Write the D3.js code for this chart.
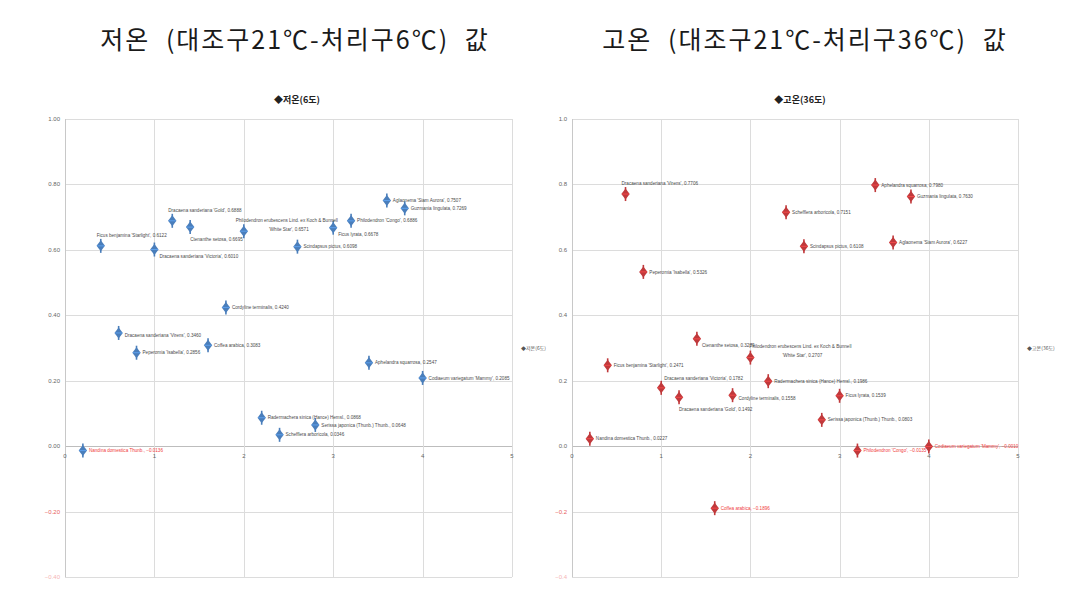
<!DOCTYPE html>
<html>
<head>
<meta charset="utf-8">
<script src="https://cdn.jsdelivr.net/npm/d3@7"></script>
<style>
  html, body { margin: 0; padding: 0; background: #fff; }
  svg { display: block; }
</style>
</head>
<body>
<svg id="chart" width="1078" height="594"></svg>
<script>
// ---------------- DATA ----------------
const plants = [
  "Nandina domestica Thunb.",
  "Ficus benjamina 'Starlight'",
  "Dracaena sanderiana 'Virens'",
  "Peperomia 'Isabella'",
  "Dracaena sanderiana 'Victoria'",
  "Dracaena sanderiana 'Gold'",
  "Ctenanthe setosa",
  "Coffea arabica",
  "Cordyline terminalis",
  "Philodendron erubescens Lind. ex Koch & Bunnell|'White Star'",
  "Radermachera sinica (Hance) Hemsl.",
  "Schefflera arboricola",
  "Scindapsus pictus",
  "Serissa japonica (Thunb.) Thunb.",
  "Ficus lyrata",
  "Philodendron 'Congo'",
  "Aphelandra squarrosa",
  "Aglaonema 'Siam Aurora'",
  "Guzmania lingulata",
  "Codiaeum variegatum 'Mammy'"
];
const plantPositions = [0.2, 0.4, 0.6, 0.8, 1.0, 1.2, 1.4, 1.6, 1.8, 2.0,
                        2.2, 2.4, 2.6, 2.8, 3.0, 3.2, 3.4, 3.6, 3.8, 4.0];
const lowTempValues = [-0.0136, 0.6122, 0.3460, 0.2856, 0.6010, 0.6888, 0.6695, 0.3083, 0.4240, 0.6571,
                       0.0868, 0.0346, 0.6098, 0.0648, 0.6678, 0.6886, 0.2547, 0.7507, 0.7269, 0.2085];
const highTempValues = [0.0227, 0.2471, 0.7706, 0.5326, 0.1782, 0.1492, 0.3279, -0.1896, 0.1558, 0.2707,
                        0.1986, 0.7151, 0.6108, 0.0803, 0.1539, -0.0135, 0.7980, 0.6227, 0.7630, -0.0010];
const xTickValues = [0, 1, 2, 3, 4, 5];
const yTickValues = [-0.4, -0.2, 0, 0.2, 0.4, 0.6, 0.8, 1.0];
const pageTitles = ["저온 (대조구21℃-처리구6℃) 값", "고온 (대조구21℃-처리구36℃) 값"];
const chartTitles = ["◆저온(6도)", "◆고온(36도)"];
const legendTexts = ["◆저온(6도)", "◆고온(36도)"];

// ---------------- LAYOUT ----------------
const svg = d3.select("#chart");
const panels = [
  { values: lowTempValues, x0: 65, x1: 512, color: "#4a7ebb", yFmt: d3.format(".2f"),
    titleX: 295, chartTitleX: 297, legendX: 521,
    place: { 1: "above", 5: "above", 6: "below", 4: "belowRight", 9: "twoLineLeft", 14: "belowRight", 2: "rightLow" } },
  { values: highTempValues, x0: 572, x1: 1018, color: "#c0393b", yFmt: d3.format(".1f"),
    titleX: 805, chartTitleX: 800, legendX: 1027,
    place: { 2: "above", 6: "belowRight", 9: "twoLineRight", 4: "aboveRight", 5: "below", 8: "rightLow" } }
];
const yTop = 119, yBottom = 577;

panels.forEach((p, pi) => {
  const x = d3.scaleLinear().domain([0, 5]).range([p.x0, p.x1]);
  const y = d3.scaleLinear().domain([-0.4, 1.0]).range([yBottom, yTop]);
  const g = svg.append("g");

  // page title
  svg.append("text")
    .attr("x", p.titleX).attr("y", 49)
    .attr("text-anchor", "middle")
    .style("font-family", "'Noto Sans CJK KR', sans-serif")
    .style("font-size", "25px")
    .style("letter-spacing", "2px")
    .style("word-spacing", "8px")
    .style("fill", "#1a1a1a")
    .text(pageTitles[pi]);

  // chart title
  g.append("text")
    .attr("x", p.chartTitleX).attr("y", 103)
    .attr("text-anchor", "middle")
    .style("font-family", "'Noto Sans CJK KR', sans-serif")
    .style("font-size", "9px").style("font-weight", "bold")
    .style("fill", "#222")
    .text(chartTitles[pi]);

  // gridlines
  g.append("g").selectAll("line.h").data(yTickValues).join("line")
    .attr("x1", p.x0).attr("x2", p.x1)
    .attr("y1", d => Math.round(y(d)) + 0.5).attr("y2", d => Math.round(y(d)) + 0.5)
    .attr("stroke", d => d === 0 ? "#bdbdbd" : "#dcdcdc").attr("stroke-width", 1);
  g.append("g").selectAll("line.v").data(xTickValues).join("line")
    .attr("y1", yTop).attr("y2", yBottom)
    .attr("x1", d => Math.round(x(d)) + 0.5).attr("x2", d => Math.round(x(d)) + 0.5)
    .attr("stroke", d => d === 0 ? "#c8c8c8" : "#dcdcdc").attr("stroke-width", 1);

  // y-axis tick labels
  g.append("g").selectAll("text").data(yTickValues).join("text")
    .attr("x", p.x0 - 5).attr("y", d => y(d) + 2)
    .attr("text-anchor", "end")
    .style("font-family", "'Liberation Sans', Arial, sans-serif")
    .style("font-size", "6px")
    .style("fill", d => d < 0 ? (d < -0.3 ? "#f5b5b5" : "#e86060") : "#666")
    .text(d => p.yFmt(d));

  // x-axis tick labels (at y = 0)
  g.append("g").selectAll("text").data(xTickValues).join("text")
    .attr("x", d => x(d)).attr("y", y(0) + 12)
    .attr("text-anchor", "middle")
    .style("font-family", "'Liberation Sans', Arial, sans-serif")
    .style("font-size", "6px").style("fill", "#666")
    .text(d => d);

  // legend (partially visible at right)
  g.append("text")
    .attr("x", p.legendX).attr("y", 350)
    .style("font-family", "'Noto Sans CJK KR', sans-serif")
    .style("font-size", "5px").style("fill", "#555")
    .text(legendTexts[pi]);

  // points
  const pts = plants.map((name, i) => ({ name, xv: plantPositions[i], yv: p.values[i], i }));
  const mk = g.append("g").selectAll("g").data(pts).join("g")
    .attr("transform", d => `translate(${x(d.xv)},${y(d.yv)})`);
  mk.append("line").attr("x1", 0).attr("x2", 0).attr("y1", -7).attr("y2", 7)
    .attr("stroke", p.color).attr("stroke-width", 1.6);
  mk.append("path").attr("d", "M0,-5.5L4.2,0L0,5.5L-4.2,0Z").attr("fill", p.color);
  mk.append("line").attr("x1", -3.5).attr("x2", 3.5).attr("y1", 0).attr("y2", 0)
    .attr("stroke", d3.color(p.color).brighter(0.8)).attr("stroke-width", 0.8);

  // labels
  const fmt4 = d3.format(".4f");
  const lab = g.append("g")
    .style("font-family", "'Liberation Sans', Arial, sans-serif")
    .style("font-size", "4.6px");
  pts.forEach(d => {
    const px = x(d.xv), py = y(d.yv);
    const parts = d.name.split("|");
    const fill = d.yv < 0 ? "#f03c3c" : "#4a4a4a";
    const mode = p.place[d.i] || "right";
    const t = lab.append("text").style("fill", fill);
    if (mode === "twoLineLeft" || mode === "twoLineRight") {
      const cx = mode === "twoLineLeft" ? px + 43 : px + 50;
      t.attr("text-anchor", "middle");
      t.append("tspan").attr("x", cx).attr("y", py - 9.5).text(parts[0]);
      t.append("tspan").attr("x", cx + 2).attr("y", py - 0.5).text(parts[1] + ", " + fmt4(d.yv));
      return;
    }
    const text = parts.join(" ") + ", " + fmt4(d.yv);
    t.text(text);
    if (mode === "right") t.attr("x", px + 6).attr("y", py + 1.6);
    else if (mode === "rightLow") t.attr("x", px + 6).attr("y", py + 4.5);
    else if (mode === "above") t.attr("x", px - 4).attr("y", py - 9);
    else if (mode === "aboveRight") t.attr("x", px + 3).attr("y", py - 7.5);
    else if (mode === "below") t.attr("x", px).attr("y", py + 14);
    else if (mode === "belowRight") t.attr("x", px + 5).attr("y", py + 8);
  });
});
</script>
</body>
</html>
